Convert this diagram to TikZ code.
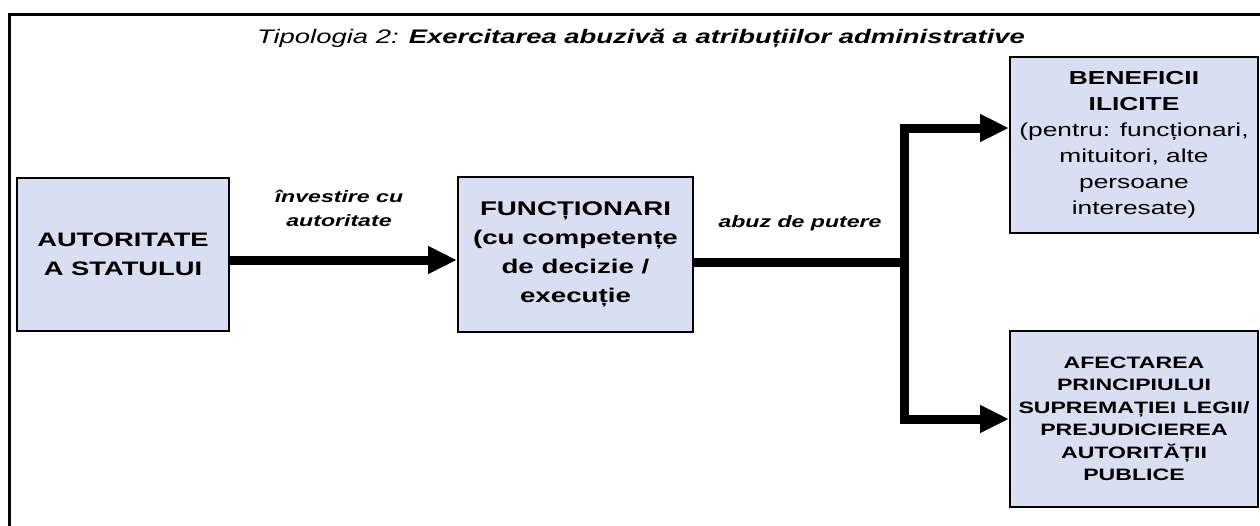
\documentclass[tikz,border=0pt]{standalone}
\usepackage{fontspec}
\setmainfont{Liberation Sans}[FakeStretch=1.4]
\usetikzlibrary{arrows.meta}
\definecolor{boxfill}{RGB}{217,223,242}
\tikzset{
 box/.style={draw=black,line width=2pt,fill=boxfill,inner sep=0pt,align=center},
 flow/.style={line width=9pt,-{Triangle[length=29pt,width=26pt]}},
 lbl/.style={font=\fontsize{16.5}{24}\selectfont\bfseries\itshape,align=center}
}
\begin{document}
\begin{tikzpicture}[x=1pt,y=-1pt]
 \useasboundingbox (0,0) rectangle (1260,525);
 \clip (0,0) rectangle (1260,525);
 % frame
 \draw[line width=3pt] (9,540) -- (9,14) -- (1280,14);
 % title
 \node[anchor=base] (title) at (641,43) {\fontsize{19.6}{23}\selectfont\itshape Tipologia 2: \textbf{Exercitarea abuzivă a atribuțiilor administrative}};
 % boxes
 \node[box,minimum width=212pt,minimum height=153pt,font=\fontsize{19.5}{29}\selectfont\bfseries] (stat) at (123,254.5) {AUTORITATE\\A STATULUI};
 \node[box,minimum width=235pt,minimum height=155pt,font=\fontsize{19.8}{29}\selectfont\bfseries] (func) at (575.5,254.5) {FUNCȚIONARI\\(cu competențe\\de decizie /\\execuție};
 \node[box,minimum width=248pt,minimum height=176pt,font=\fontsize{18.8}{26}\selectfont] (benef) at (1134,145) {\textbf{BENEFICII}\\\textbf{ILICITE}\\(pentru: funcționari,\\mituitori, alte\\persoane\\interesate)};
 \node[box,minimum width=248pt,minimum height=176pt,font=\fontsize{16.5}{22.5}\selectfont\bfseries] (afect) at (1134,419) {AFECTAREA\\PRINCIPIULUI\\SUPREMAȚIEI LEGII/\\PREJUDICIEREA\\AUTORITĂȚII\\PUBLICE};
 % labels
 \node[lbl] (invest) at (339,208) {învestire cu\\autoritate};
 \node[lbl,anchor=base] (abuz) at (800,227) {abuz de putere};
 % arrows
 \coordinate (split) at (904,262);
 \draw[flow] ([yshift=-5.5pt]stat.east) -- ([yshift=-5.5pt]func.west);
 \draw[line width=9pt] ([yshift=-7.5pt]func.east) -- (split);
 \draw[line width=9pt,{Triangle[length=29pt,width=26pt]}-{Triangle[length=29pt,width=26pt]}] ([yshift=17pt]benef.west) -| (split) |- (afect.west);
\end{tikzpicture}
\end{document}
